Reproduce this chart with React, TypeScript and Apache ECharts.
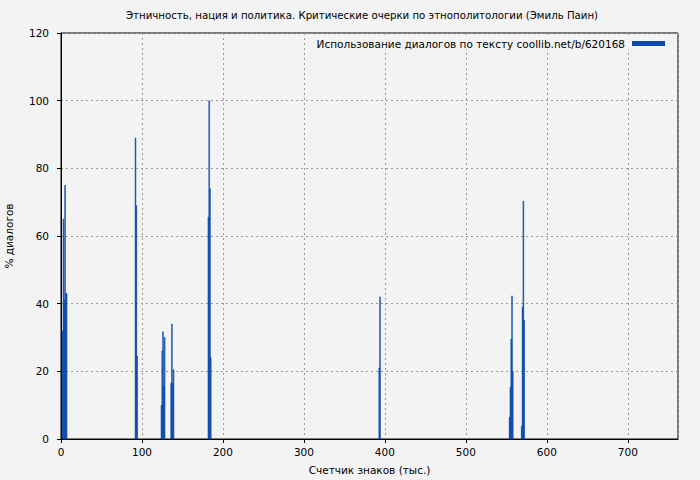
import React, { useEffect, useRef } from "react";
import * as echarts from "echarts";

const TITLE = "Этничность, нация и политика. Критические очерки по этнополитологии (Эмиль Паин)";
const SERIES_NAME = "Использование диалогов по тексту coollib.net/b/620168";
const X_NAME = "Счетчик знаков (тыс.)";
const Y_NAME = "% диалогов";

// x positions (thousand chars) and % of dialogues
const positions = [
  2, 3, 4, 5, 6, 7,
  92, 93, 94,
  124, 125, 126, 127, 128,
  136, 137, 138, 139,
  182, 183, 184, 185,
  393, 394,
  554, 555, 556, 557, 558,
  569, 570, 571, 572,
];
const percents = [
  32, 65, 41, 75, 43, 43,
  89, 69, 24.5,
  10, 26, 31.7, 15.7, 30,
  16.5, 34, 16.5, 20.5,
  65.6, 100, 74, 24,
  21, 42,
  6.4, 15.3, 29.5, 42.3, 20,
  3.8, 39, 70.3, 35,
];

const X_MAX = 762;
const BAR_COLOR = "#0b48aa";

export default function App() {
  const ref = useRef<HTMLDivElement>(null);
  useEffect(() => {
    if (!ref.current) return;
    const chart = echarts.init(ref.current, undefined, { renderer: "svg" });
    const data = positions.map((p, i) => [p, percents[i]]);
    const font = "DejaVu Sans";
    const fs = 10.5;
    chart.setOption({
      animation: false,
      backgroundColor: "#f3f3f3",
      textStyle: { fontFamily: font },
      title: {
        text: TITLE,
        left: 126,
        top: 10,
        padding: 0,
        textStyle: { fontSize: 10.2, fontWeight: "normal", color: "#000", fontFamily: font },
      },
      legend: {
        data: [{ name: SERIES_NAME, icon: "rect" }],
        right: 35,
        top: 38,
        align: "right",
        itemWidth: 33,
        itemHeight: 5,
        itemGap: 0,
        padding: [0, 0, 0, 0],
        textStyle: { fontSize: fs, color: "#000", fontFamily: font, padding: [0, 2, 0, 0] },
        backgroundColor: "#f3f3f3",
      },
      grid: {
        left: 61,
        right: 22,
        top: 33,
        bottom: 41,
        outerBoundsMode: "none",
        containLabel: false,
        show: true,
        borderColor: "#000",
        borderWidth: 1,
        backgroundColor: "transparent",
      },
      xAxis: {
        type: "value",
        min: 0,
        max: X_MAX,
        interval: 100,
        name: X_NAME,
        nameLocation: "middle",
        nameGap: 25,
        nameTextStyle: { fontSize: fs, color: "#000", fontFamily: font },
        axisLine: { show: true, lineStyle: { color: "#000" } },
        axisTick: { show: true, length: 4, lineStyle: { color: "#000" } },
        axisLabel: {
          fontSize: fs,
          color: "#000",
          margin: 7,
          showMaxLabel: false,
          formatter: (v: number) => (v % 100 === 0 ? String(v) : ""),
        },
        splitLine: { show: true, lineStyle: { color: "#999", type: [2, 3], width: 1 } },
      },
      yAxis: {
        type: "value",
        min: 0,
        max: 120,
        interval: 20,
        name: Y_NAME,
        nameLocation: "middle",
        nameGap: 47,
        nameTextStyle: { fontSize: fs, color: "#000", fontFamily: font },
        axisLine: { show: true, lineStyle: { color: "#000" } },
        axisTick: { show: true, length: 4, lineStyle: { color: "#000" } },
        axisLabel: { fontSize: fs, color: "#000", margin: 12 },
        splitLine: { show: true, lineStyle: { color: "#999", type: [2, 3], width: 1 } },
      },
      series: [
        {
          name: SERIES_NAME,
          type: "custom",
          itemStyle: { color: BAR_COLOR },
          encode: { x: 0, y: 1 },
          data,
          renderItem: (params: any, api: any) => {
            const x = api.value(0);
            const y = api.value(1);
            const p0 = api.coord([x - 0.5, 0]);
            const p1 = api.coord([x + 0.5, y]);
            return {
              type: "rect",
              shape: { x: p0[0], y: p1[1], width: p1[0] - p0[0], height: p0[1] - p1[1] },
              style: { fill: BAR_COLOR, stroke: BAR_COLOR, lineWidth: 0.5 },
            };
          },
        },
      ],
    });
    return () => chart.dispose();
  }, []);
  return <div ref={ref} style={{ width: 700, height: 480, position: "absolute", left: 0, top: 0 }} />;
}
